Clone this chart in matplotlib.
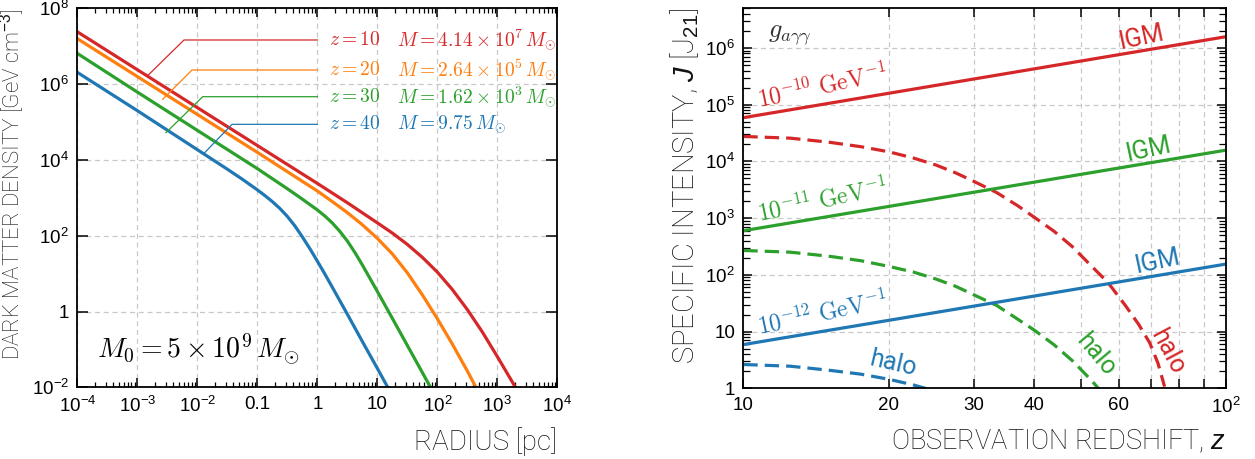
import numpy as np
import matplotlib
matplotlib.use("Agg")
import matplotlib.pyplot as plt
from matplotlib import font_manager
from matplotlib.ticker import FixedLocator, FixedFormatter, NullLocator, LogLocator, NullFormatter

# ---- left panel: dark matter density profiles (log10 r [pc], log10 rho [GeV cm^-3])
halo_z = [10, 20, 30, 40]
halo_mass_txt = [r"4.14 \times 10^{7}", r"2.64 \times 10^{5}", r"1.62 \times 10^{3}", r"9.75"]

logr_z10 = [-4, -3, -2, -1, -0.5, 0, 0.5, 1, 1.25, 1.5, 1.75, 2, 2.25, 2.5, 2.75, 3, 3.25, 3.31]
logrho_z10 = [7.38, 6.38, 5.38, 4.38, 3.88, 3.38, 2.87, 2.34, 2.07, 1.77, 1.43, 1.04, 0.58, 0.05, -0.54, -1.19, -1.86, -2.03]

logr_z20 = [-4, -3, -2, -1, -0.5, 0, 0.25, 0.5, 0.75, 1, 1.25, 1.5, 1.75, 2, 2.25, 2.5, 2.64]
logrho_z20 = [7.20, 6.20, 5.20, 4.20, 3.69, 3.18, 2.90, 2.61, 2.29, 1.93, 1.52, 1.02, 0.44, -0.19, -0.86, -1.57, -1.99]

logr_z30 = [-4, -3, -2, -1, -0.5, -0.25, 0, 0.125, 0.25, 0.375, 0.5, 0.625, 0.75, 0.875, 1, 1.25, 1.5, 1.75, 1.9]
logrho_z30 = [6.81, 5.79, 4.78, 3.77, 3.24, 2.965, 2.68, 2.52, 2.335, 2.115, 1.86, 1.56, 1.23, 0.88, 0.53, -0.18, -0.895, -1.61, -2.04]

logr_z40 = [-4, -3, -2, -1.5, -1.25, -1, -0.875, -0.75, -0.625, -0.5, -0.375, -0.25, -0.125, 0, 0.125, 0.25,
            0.5, 0.75, 1, 1.17]
logrho_z40 = [6.31, 5.30, 4.27, 3.755, 3.49, 3.21, 3.06, 2.90, 2.72, 2.51, 2.26, 1.97, 1.66, 1.33, 0.99, 0.64,
              -0.07, -0.79, -1.50, -1.99]

# leader lines for the labels: (log r, log rho) of the tip and of the corner
leader_tip = [(-2.817, 6.24), (-2.577, 5.60), (-2.522, 4.718), (-1.888, 4.174)]
leader_corner = [(-2.222, 7.164), (-2.088, 6.372), (-1.91, 5.668), (-1.422, 4.939)]

# ---- right panel: specific intensity vs observation redshift
z_igm = [10, 100]
igm_g10 = [5.9e4, 1.58e6]
igm_g11 = [600, 1.58e4]
igm_g12 = [5.9, 155]

z_halo_g10 = [10, 12.5, 15, 17.5, 20, 22.5, 25, 27.5, 30, 33.5, 37, 40, 44, 48, 52, 57, 62, 66, 69.5, 72.3, 74.6]
logj_halo_g10 = [4.44, 4.41, 4.34, 4.26, 4.17, 4.06, 3.94, 3.80, 3.65, 3.45, 3.22, 3.02, 2.77, 2.50, 2.20, 1.86, 1.45, 1.12, 0.80, 0.44, 0.03]
z_halo_g11 = [10, 12.5, 15, 17.5, 20, 22.5, 25, 27.5, 30, 33.5, 37, 40, 44, 48, 51, 53, 55]
logj_halo_g11 = [2.43, 2.40, 2.33, 2.25, 2.15, 2.05, 1.93, 1.80, 1.65, 1.46, 1.22, 1.03, 0.77, 0.49, 0.26, 0.11, -0.05]
z_halo_g12 = [10, 12.5, 15, 17.5, 20, 22.5, 24.5]
logj_halo_g12 = [0.42, 0.39, 0.32, 0.25, 0.16, 0.06, -0.03]

coupling_txt = [r"10^{-10}", r"10^{-11}", r"10^{-12}"]

RED, ORANGE, GREEN, BLUE = "#d62728", "#ff7f0e", "#2ca02c", "#1f77b4"


def light_family():
    # first installed sans family that ships a light weight
    for fam in ["Roboto", "Lato", "Open Sans", "Inter", "Noto Sans"]:
        for f in font_manager.fontManager.ttflist:
            w = f.weight
            if isinstance(w, str):
                w = font_manager.weight_dict.get(w, 400)
            if f.name == fam and w <= 300:
                return fam
    return "Liberation Sans"


plt.rcParams["font.family"] = ["Liberation Sans", "DejaVu Sans"]
plt.rcParams["mathtext.fontset"] = "custom"
plt.rcParams["mathtext.rm"] = "Liberation Sans"
plt.rcParams["mathtext.it"] = "Liberation Sans:italic"
plt.rcParams["mathtext.bf"] = "Liberation Sans:bold"
LIGHT = light_family()

fig = plt.figure(figsize=(12.55, 4.59), dpi=100)
ax1 = fig.add_axes([0.0616, 0.1562, 0.3825, 0.8257])
ax2 = fig.add_axes([0.5923, 0.154, 0.3846, 0.8279])

lab_kw = dict(family=LIGHT, fontweight="light", color="#111111")


def style_axes(ax):
    for s in ax.spines.values():
        s.set_linewidth(1.3)
    ax.tick_params(which="both", direction="in", top=True, right=True, labelsize=13.5, width=1.1)
    ax.tick_params(which="major", length=6.5, pad=6)
    ax.tick_params(which="minor", length=3.5, width=0.9)
    ax.grid(True, which="major", color="#c8c8c8", linestyle=(0, (4, 3)), linewidth=0.9)
    ax.set_axisbelow(True)


# ---------------- left panel
ax1.set_xscale("log")
ax1.set_yscale("log")
profiles = [(logr_z10, logrho_z10), (logr_z20, logrho_z20), (logr_z30, logrho_z30), (logr_z40, logrho_z40)]
cols = [RED, ORANGE, GREEN, BLUE]
for (lr, lrho), c in zip(profiles, cols):
    ax1.plot(10 ** np.array(lr), 10 ** np.array(lrho), color=c, lw=2.3, solid_joinstyle="round")

for i, c in enumerate(cols):
    tx, ty = leader_tip[i]
    cx, cy = leader_corner[i]
    ax1.plot([10 ** tx, 10 ** cx, 1.0], [10 ** ty, 10 ** cy, 10 ** cy], color=c, lw=0.9)
    ax1.text(10 ** 0.2, 10 ** cy, r"$z = %d$" % halo_z[i], color=c, fontsize=14,
             va="center", ha="left", math_fontfamily="cm")
    ax1.text(10 ** 1.33, 10 ** cy, r"$M = %s\,M_{\odot}$" % halo_mass_txt[i], color=c, fontsize=14,
             va="center", ha="left", math_fontfamily="cm")

ax1.text(0.041, 0.077, r"$M_0 = 5 \times 10^9\,M_{\odot}$", transform=ax1.transAxes,
         fontsize=20, ha="left", va="baseline", math_fontfamily="cm")

ax1.set_xlim(1e-4, 1e4)
ax1.set_ylim(1e-2, 1e8)
xt = [10.0 ** k for k in range(-4, 5)]
ax1.xaxis.set_major_locator(FixedLocator(xt))
ax1.xaxis.set_major_formatter(FixedFormatter([r"$10^{-4}$", r"$10^{-3}$", r"$10^{-2}$", "0.1", "1", "10",
                                              r"$10^{2}$", r"$10^{3}$", r"$10^{4}$"]))
ax1.xaxis.set_minor_locator(LogLocator(base=10, subs=np.arange(2, 10), numticks=20))
ax1.xaxis.set_minor_formatter(NullFormatter())
yt = [10.0 ** k for k in range(-2, 9, 2)]
ax1.yaxis.set_major_locator(FixedLocator(yt))
ax1.yaxis.set_major_formatter(FixedFormatter([r"$10^{-2}$", "1", r"$10^{2}$", r"$10^{4}$", r"$10^{6}$", r"$10^{8}$"]))
ax1.yaxis.set_minor_locator(NullLocator())
style_axes(ax1)
ax1.tick_params(axis="y", which="major", length=8)
ax1.set_xlabel("RADIUS [pc]", loc="right", labelpad=8, fontsize=20, **lab_kw)
ax1.set_ylabel(r"DARK MATTER DENSITY [GeV cm$^{-3}$]", loc="top", fontsize=16, **lab_kw)
ax1.yaxis.set_label_coords(-0.104, 1.0)

# ---------------- right panel
ax2.set_xscale("log")
ax2.set_yscale("log")
igm = [igm_g10, igm_g11, igm_g12]
halos = [(z_halo_g10, logj_halo_g10), (z_halo_g11, logj_halo_g11), (z_halo_g12, logj_halo_g12)]
rcols = [RED, GREEN, BLUE]
for j, c in enumerate(rcols):
    ax2.plot(z_igm, igm[j], color=c, lw=2.3)
    hz, hj = halos[j]
    ln, = ax2.plot(hz, 10 ** np.array(hj), color=c, lw=2.3)
    ln.set_dashes([4.5, 2.2])

# coupling labels along the IGM lines
for j, c in enumerate(rcols):
    ax2.text(10.8, 10 ** (4.95 - 2.0 * j), r"$%s\ \mathrm{GeV}^{-1}$" % coupling_txt[j], color=c,
             fontsize=17, rotation=12, rotation_mode="anchor", ha="left", va="baseline",
             math_fontfamily="cm")

igm_pos = [(60.6, 10 ** 5.99), (62.6, 10 ** 4.0), (65.3, 10 ** 2.04)]
for (x, y), c in zip(igm_pos, rcols):
    ax2.text(x, y, "IGM", color=c, fontsize=18, family=LIGHT, fontweight="normal",
             rotation=12, rotation_mode="anchor", ha="left", va="baseline")

halo_pos = [(75.7, 10 ** 0.64, -62), (53.7, 10 ** 0.59, -50), (20.4, 10 ** 0.44, -13)]
for (x, y, rot), c in zip(halo_pos, rcols):
    ax2.text(x, y, "halo", color=c, fontsize=18, family=LIGHT, fontweight="normal",
             rotation=rot, rotation_mode="anchor", ha="center", va="center")

ax2.text(0.051, 0.924, r"$g_{a\gamma\gamma}$", transform=ax2.transAxes, color="#333333",
         fontsize=19, ha="left", va="baseline", math_fontfamily="cm")

ax2.set_xlim(10, 100)
ax2.set_ylim(1, 5e6)
zt = list(range(10, 101, 10))
ax2.xaxis.set_major_locator(FixedLocator(zt))
ax2.xaxis.set_major_formatter(FixedFormatter(["10", "20", "30", "40", "", "60", "", "", "", r"$10^{2}$"]))
ax2.xaxis.set_minor_locator(NullLocator())
jt = [10.0 ** k for k in range(0, 7)]
ax2.yaxis.set_major_locator(FixedLocator(jt))
ax2.yaxis.set_major_formatter(FixedFormatter(["1", "10", r"$10^{2}$", r"$10^{3}$", r"$10^{4}$",
                                              r"$10^{5}$", r"$10^{6}$"]))
ax2.yaxis.set_minor_locator(LogLocator(base=10, subs=np.arange(2, 10), numticks=20))
ax2.yaxis.set_minor_formatter(NullFormatter())
style_axes(ax2)
ax2.tick_params(axis="y", which="minor", length=5)
ax2.set_xlabel(r"OBSERVATION REDSHIFT, $z$", loc="right", labelpad=8, fontsize=19.5, **lab_kw)
ax2.set_ylabel(r"SPECIFIC INTENSITY, $J$ [J$_{21}$]", loc="top", fontsize=21, **lab_kw)
ax2.yaxis.set_label_coords(-0.087, 1.0)

fig.savefig("out.png", dpi=100)
